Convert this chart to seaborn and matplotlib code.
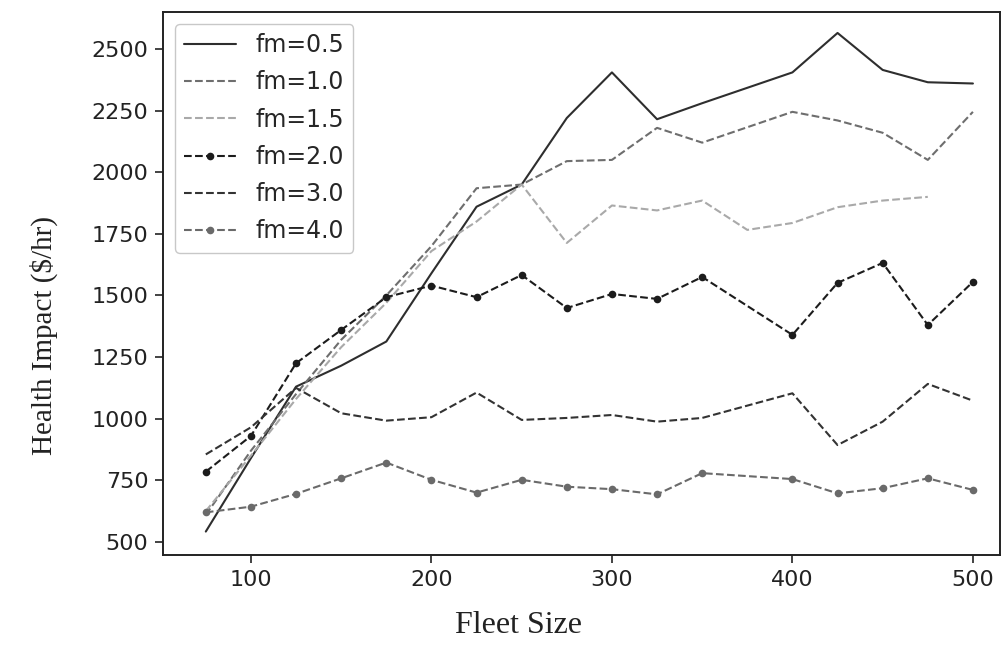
import numpy as np
import pandas as pd
import matplotlib
matplotlib.use("Agg")
import matplotlib.pyplot as plt
import seaborn as sns

# Fleet sizes (x) and health impact per fuel multiplier (NaN = no run)
fleet = [75, 100, 125, 150, 175, 200, 225, 250, 275, 300, 325, 350, 375, 400, 425, 450, 475, 500]
nan = np.nan
fm05 = [542, 840, 1130, 1215, 1313, 1590, 1860, 1950, 2220, 2405, 2215, 2280, nan, 2405, 2565, 2415, 2365, 2360]
fm10 = [610, 870, 1100, 1320, 1500, 1700, 1935, 1950, 2045, 2050, 2180, 2120, nan, 2245, 2210, 2160, 2050, 2245]
fm15 = [625, 850, 1080, 1290, 1470, 1680, 1800, 1950, 1713, 1865, 1845, 1885, 1766, 1794, 1858, 1885, 1900, nan]
fm20 = [785, 930, 1225, 1360, 1493, 1540, 1493, 1583, 1449, 1506, 1486, 1575, nan, 1340, 1551, 1632, 1380, 1555]
fm30 = [855, 965, 1125, 1022, 992, 1006, 1106, 995, 1003, 1015, 988, 1003, nan, 1103, 893, 988, 1141, 1073]
fm40 = [620, 643, 695, 758, 822, 752, 700, 752, 724, 714, 693, 779, nan, 755, 697, 718, 758, 711]

labels = ["fm=0.5", "fm=1.0", "fm=1.5", "fm=2.0", "fm=3.0", "fm=4.0"]
series = [fm05, fm10, fm15, fm20, fm30, fm40]

styles = [
    dict(color="#2e2e2e", linestyle="-", marker=None),
    dict(color="#6e6e6e", linestyle="--", marker=None),
    dict(color="#a9a9a9", linestyle="--", marker=None),
    dict(color="#1c1c1c", linestyle="--", marker="o"),
    dict(color="#333333", linestyle="--", marker=None),
    dict(color="#6a6a6a", linestyle="--", marker="o"),
]

sns.set_style("ticks")
plt.rcParams["font.family"] = ["DejaVu Sans"]

fig = plt.figure(figsize=(10.02, 6.46), dpi=100)
ax = fig.add_axes([0.1627, 0.1409, 0.8353, 0.8405])

for lab, vals, st in zip(labels, series, styles):
    df = pd.DataFrame({"fleet": fleet, "impact": vals}).dropna()
    sns.lineplot(data=df, x="fleet", y="impact", ax=ax, label=lab,
                 color=st["color"], linestyle=st["linestyle"],
                 marker=st["marker"], markersize=5.5, markeredgewidth=0,
                 linewidth=1.5)

ax.set_xlim(51.3, 515)
ax.set_ylim(447, 2650)
ax.set_xticks([100, 200, 300, 400, 500])
ax.set_yticks([500, 750, 1000, 1250, 1500, 1750, 2000, 2250, 2500])
ax.tick_params(axis="both", labelsize=16, length=5.5, width=1.2, pad=5,
               color="#222222", labelcolor="#222222")
for s in ax.spines.values():
    s.set_color("#222222")
    s.set_linewidth(1.4)

serif = ["Liberation Serif", "DejaVu Serif"]
ax.set_xlabel("Fleet Size", fontsize=23, family=serif, color="#222222")
ax.set_ylabel("Health Impact ($/hr)", fontsize=21, family=serif, color="#222222")
ax.xaxis.set_label_coords(0.425, -0.103)
ax.yaxis.set_label_coords(-0.1256, 0.405)

leg = ax.legend(loc="upper left", fontsize=17, handlelength=2.2,
                labelspacing=0.56, frameon=True)
leg.get_frame().set_edgecolor("#bbbbbb")

fig.savefig("out.png", dpi=100)
